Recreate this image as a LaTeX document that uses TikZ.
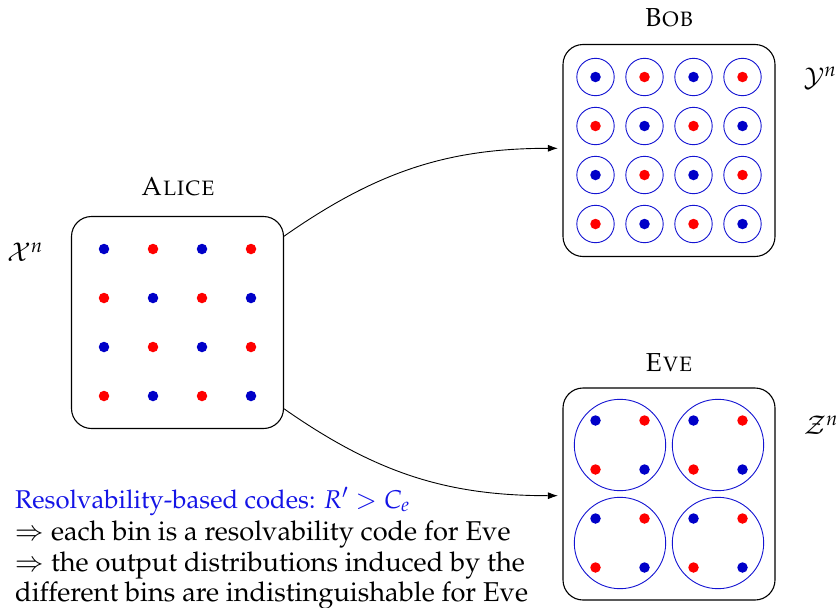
\documentclass[tikz,border=0pt]{standalone}
\usepackage[T1]{fontenc}
\usepackage{mathpazo}
\usetikzlibrary{arrows.meta}
\definecolor{dotblue}{RGB}{0,0,200}
\definecolor{dotred}{RGB}{255,0,0}
\definecolor{ringblue}{RGB}{20,20,210}
\definecolor{txtblue}{RGB}{20,20,230}
\begin{document}
\begin{tikzpicture}[x=1pt,y=1pt, font=\fontsize{26}{31}\selectfont,
  party/.style={draw=black, line width=1.1pt, rounded corners=20pt, minimum width=212pt, minimum height=212pt, inner sep=0pt},
  dot/.style={circle, inner sep=0pt, minimum size=10.5pt},
  ring/.style={circle, draw=ringblue, line width=0.9pt, inner sep=0pt, minimum size=37.4pt},
  bigring/.style={circle, draw=ringblue, line width=0.9pt, inner sep=0pt, minimum size=91.4pt},
  link/.style={draw=black, line width=0.9pt, -{Latex[length=10pt,width=7pt]}, shorten >=4.5pt},
  txt/.style={anchor=base west, inner sep=0pt, font=\fontsize{27.2}{31}\selectfont}]
\useasboundingbox (0,0) rectangle (836,-608);

\node[party] (alice) at (177.5,-322.5) {};
\node[party] (bob) at (669,-150.5) {};
\node[party] (eve) at (669,-494) {};

\node[anchor=base] (alicelbl) at (178,-195) {\textsc{Alice}};
\node[anchor=base] (boblbl) at (669,-26.7) {\textsc{Bob}};
\node[anchor=base] (evelbl) at (669,-371.5) {\textsc{Eve}};

\node (xn) at (25,-252) {$\mathcal{X}^n$};
\node (yn) at (820,-78) {$\mathcal{Y}^n$};
\node (zn) at (821,-425) {$\mathcal{Z}^n$};

\foreach \i in {0,...,3}{\foreach \j in {0,...,3}{
  \ifodd\numexpr\i+\j\relax \def\dcol{dotred}\else\def\dcol{dotblue}\fi
  \node[dot, fill=\dcol] (a\i\j) at ([shift={(-73.5+49*\i,73.5-49*\j)}]alice.center) {};
  \node[ring] (br\i\j) at ([shift={(-73.5+49*\i,73.5-49*\j)}]bob.center) {};
  \node[dot, fill=\dcol] (bd\i\j) at ([shift={(-73.5+49*\i,73.5-49*\j)}]bob.center) {};
  \node[dot, fill=\dcol] (ed\i\j) at ([shift={(-73.5+49*\i,73.5-49*\j)}]eve.center) {};
}}
\foreach \i in {0,1}{\foreach \j in {0,1}{
  \node[bigring] (er\i\j) at ([shift={(-49+98*\i,49-98*\j)}]eve.center) {};
}}

\draw[link] (alice.39.2) to[out=35,in=180] ([yshift=2.2pt]bob.west);
\draw[link] (alice.-39.2) to[out=-35,in=180] ([yshift=-1.7pt]eve.west);

\node[txt, text=txtblue, text depth=0pt, font=\fontsize{25.7}{31}\selectfont] (t1) at (15,-508) {Resolvability-based codes: $R'>C_e$};
\node[txt] (t2) at (15,-540.5) {$\Rightarrow$ each bin is a resolvability code for Eve};
\node[txt] (t3) at (15,-571) {$\Rightarrow$ the output distributions induced by the};
\node[txt] (t4) at (15,-601.5) {different bins are indistinguishable for Eve};
\end{tikzpicture}
\end{document}
